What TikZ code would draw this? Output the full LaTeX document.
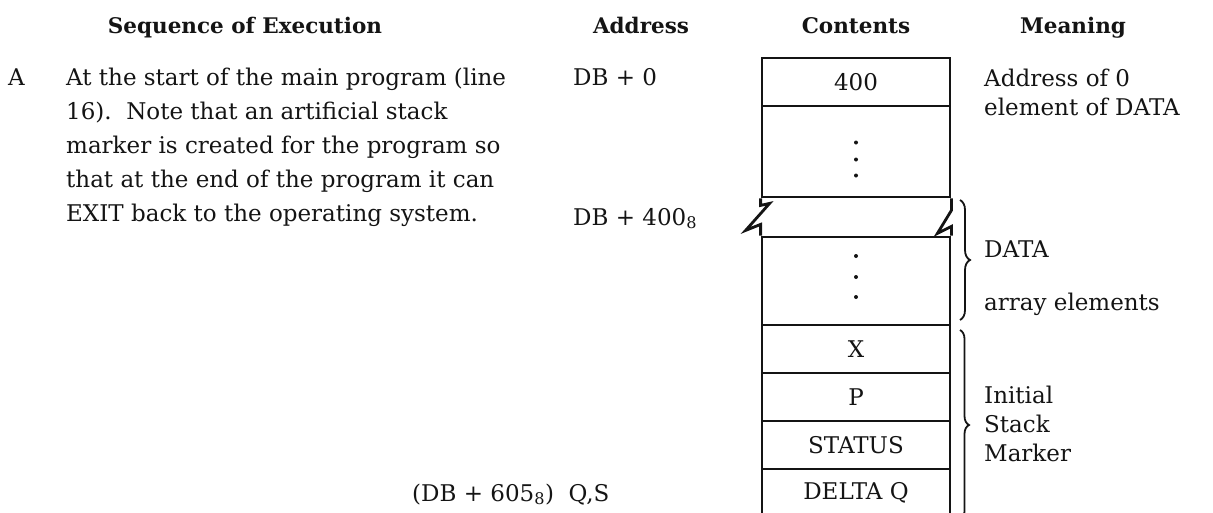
\documentclass[tikz,border=0pt]{standalone}
\usepackage{fontspec}
\setmainfont{DejaVu Serif}
\usetikzlibrary{decorations.pathreplacing}
\definecolor{ink}{HTML}{141414}
\newcommand{\oct}[1]{#1\textsubscript{8}}

\tikzset{
 cell/.style={draw=ink,line width=2.8pt,minimum width=188pt,inner sep=0pt,
  font=\fontsize{23}{28}\selectfont},
 txt/.style={anchor=base west,inner sep=0pt,font=\fontsize{23}{28}\selectfont},
 head/.style={anchor=base,inner sep=0pt,font=\fontsize{21.5}{26}\selectfont\bfseries},
 brc/.style={decorate,decoration={brace,amplitude=10pt},line width=1.8pt},
}

\begin{document}
\begin{tikzpicture}[x=1pt,y=-1pt,color=ink]
\useasboundingbox (0,0) rectangle (1213,512);
\clip (0,0) rectangle (1213,512);
% column heads
\node[head] (hseq) at (245,33) {Sequence of Execution};
\node[head] (hadr) at (641,33) {Address};
\node[head] (hcon) at (856,33) {Contents};
\node[head] (hmean) at (1073,33) {Meaning};
% step A (base anchor sits on the last line)
\node[txt] (stepA) at (8,85) {A};
\node[txt,align=left,font=\fontsize{23}{34}\selectfont] (seqA) at (66,221)
 {At the start of the main program (line\\
  16).\ \ Note that an artificial stack\\
  marker is created for the program so\\
  that at the end of the program it can\\
  EXIT back to the operating system.};
% addresses
\node[txt] (adr0) at (573,85) {DB + 0};
\node[txt] (adr400) at (573,225) {DB + \oct{400}};
\node[txt] (adrqs) at (412,501) {(DB + \oct{605})\ \ Q,S};
% stack cells
\node[cell,minimum height=48pt] (c400) at (856,82) {400};
\node[cell,minimum height=91pt] (cgap) at (856,151.5) {};
\node[cell,minimum height=88pt] (cdata) at (856,281) {};
\node[cell,minimum height=48pt] (cx) at (856,349) {X};
\node[cell,minimum height=48pt] (cp) at (856,397) {P};
\node[cell,minimum height=48pt] (cstat) at (856,445) {STATUS};
\node[cell,minimum height=48pt] (cdelta) at (856,493) {DELTA Q};
\foreach \dy in {-9,8,24} \fill (cgap.center) ++(0,\dy) circle (2pt);
\foreach \dy in {-25,-4,16} \fill (cdata.center) ++(0,\dy) circle (2pt);
% broken walls
\draw[line width=2.8pt,line join=miter] (cgap.south west) -- ++(0,7) -- ++(9,-2)
 -- ++(-24,27) -- ++(15,-6) |- (cdata.north west);
\draw[line width=2.8pt,line join=miter] (cgap.south east) -- ++(0,12) -- ++(-14,23)
 -- ++(14,-7) |- (cdata.north east);
% meanings
\node[txt] (m0a) at (984,86) {Address of 0};
\node[txt] (m0b) at (984,115) {element of DATA};
\coordinate (bd1) at (960,200);
\coordinate (bd2) at (960,320);
\draw[brc] (bd1) -- (bd2);
\node[txt] (mdata) at (984,257) {DATA};
\node[txt] (marr) at (984,310) {array elements};
\coordinate (bs1) at (960,330);
\coordinate (bs2) at (960,520);
\draw[brc,decoration={amplitude=9pt}] (bs1) -- (bs2);
\node[txt,align=left,font=\fontsize{23}{29}\selectfont] (mstack) at (984,461)
 {Initial\\Stack\\Marker};
\end{tikzpicture}
\end{document}
